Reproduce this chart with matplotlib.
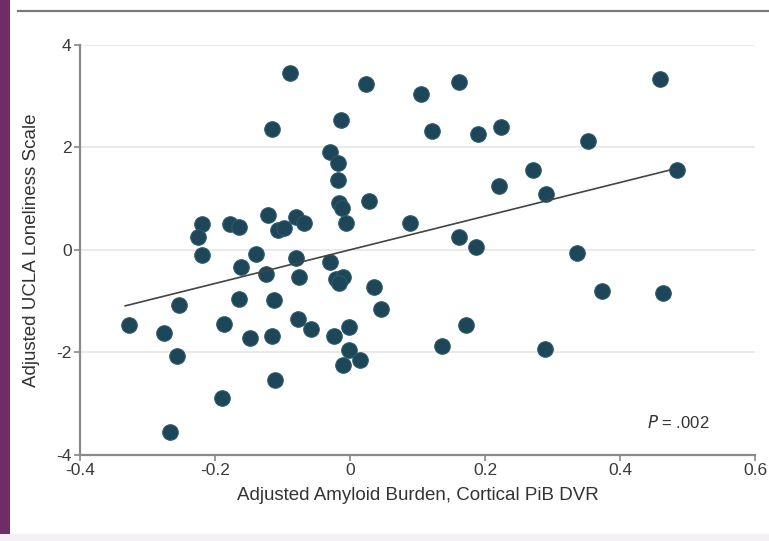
import matplotlib
matplotlib.use("Agg")
import matplotlib.pyplot as plt
from matplotlib.patches import Rectangle
from matplotlib.lines import Line2D

# adjusted amyloid burden (x) vs adjusted UCLA loneliness (y)
amyloid = [0.459, -0.089, 0.023, 0.105, 0.162, -0.115, -0.013, 0.121, 0.189, 0.224,
           0.353, -0.030, -0.018, -0.018, 0.271, 0.485, 0.220, 0.290, -0.016, -0.012,
           0.028, -0.006, 0.089, 0.162, 0.186, -0.219, -0.225, -0.178, -0.164, -0.122,
           -0.106, -0.098, -0.080, -0.068, -0.219, -0.140, -0.161, -0.124, -0.080, -0.075,
           -0.029, -0.021, -0.010, -0.017, 0.036, 0.046, -0.253, -0.164, -0.112, -0.327,
           -0.276, -0.187, -0.148, -0.115, -0.077, -0.058, -0.024, -0.001, -0.001, 0.015,
           -0.011, -0.256, -0.111, -0.190, -0.266, 0.137, 0.172, 0.289, 0.336, 0.374,
           0.463]
loneliness = [3.34, 3.46, 3.24, 3.04, 3.27, 2.36, 2.54, 2.32, 2.27, 2.40,
              2.12, 1.92, 1.69, 1.37, 1.56, 1.56, 1.24, 1.09, 0.91, 0.81,
              0.95, 0.52, 0.53, 0.25, 0.06, 0.51, 0.26, 0.50, 0.44, 0.68,
              0.39, 0.42, 0.65, 0.53, -0.09, -0.08, -0.34, -0.47, -0.15, -0.53,
              -0.23, -0.57, -0.53, -0.64, -0.73, -1.15, -1.07, -0.96, -0.98, -1.47,
              -1.62, -1.45, -1.71, -1.68, -1.34, -1.55, -1.68, -1.50, -1.95, -2.14,
              -2.24, -2.06, -2.54, -2.89, -3.55, -1.88, -1.47, -1.94, -0.05, -0.80,
              -0.83]

# regression line end points
fit_x = [-0.333, 0.48]
fit_y = [-1.09, 1.58]

xticks = [-0.4, -0.2, 0, 0.2, 0.4, 0.6]
xtick_labels = ["-0.4", "-0.2", "0", "0.2", "0.4", "0.6"]
yticks = [-4, -2, 0, 2, 4]
ytick_labels = ["-4", "-2", "0", "2", "4"]

plt.rcParams['font.family'] = ['Liberation Sans Narrow', 'Liberation Sans', 'DejaVu Sans']
plt.rcParams['axes.unicode_minus'] = False

fig = plt.figure(figsize=(7.69, 5.41), dpi=100)

# purple side strip + top rule like the journal panel
fig.patches.append(Rectangle((0, 0), 10 / 769, 1, transform=fig.transFigure,
                             facecolor='#702c66', edgecolor='none', zorder=0))
fig.patches.append(Rectangle((0, 0), 1, 7 / 541, transform=fig.transFigure,
                             facecolor='#f6eff8', edgecolor='none', zorder=0))
fig.lines.append(Line2D([18 / 769, 1], [1 - 11 / 541, 1 - 11 / 541], transform=fig.transFigure,
                        color='#7a7a7a', lw=1.6))

ax = fig.add_axes([80 / 769, 86 / 541, 675 / 769, 410 / 541])

ax.scatter(amyloid, loneliness, s=125, color='#1d4659', edgecolors='#2c5a6a',
           linewidths=0.8, zorder=3)
ax.plot(fit_x, fit_y, color='#444444', lw=1.2, zorder=4)

ax.set_xlim(-0.4, 0.6)
ax.set_ylim(-4, 4)
ax.set_xticks(xticks)
ax.set_xticklabels(xtick_labels)
ax.set_yticks(yticks)
ax.set_yticklabels(ytick_labels)

for y in yticks[1:]:
    ax.axhline(y, color='#e6e6e6', lw=1.2, zorder=1)

for s in ['top', 'right']:
    ax.spines[s].set_visible(False)
for s in ['left', 'bottom']:
    ax.spines[s].set_color('#8a8a8a')
    ax.spines[s].set_linewidth(1.6)

ax.tick_params(axis='both', colors='#8a8a8a', length=4, width=1.2, labelsize=12.5,
               labelcolor='#3a3a3a', pad=2)

ax.set_xlabel("Adjusted Amyloid Burden, Cortical PiB DVR", fontsize=13.5, color='#333333',
              labelpad=6)
ax.set_ylabel("Adjusted UCLA Loneliness Scale", fontsize=13.5, color='#333333', labelpad=12)

ax.text(0.532, -3.37, "$P$ = .002", ha='right', va='center', fontsize=12, color='#333333')

plt.savefig("out.png", dpi=100)
